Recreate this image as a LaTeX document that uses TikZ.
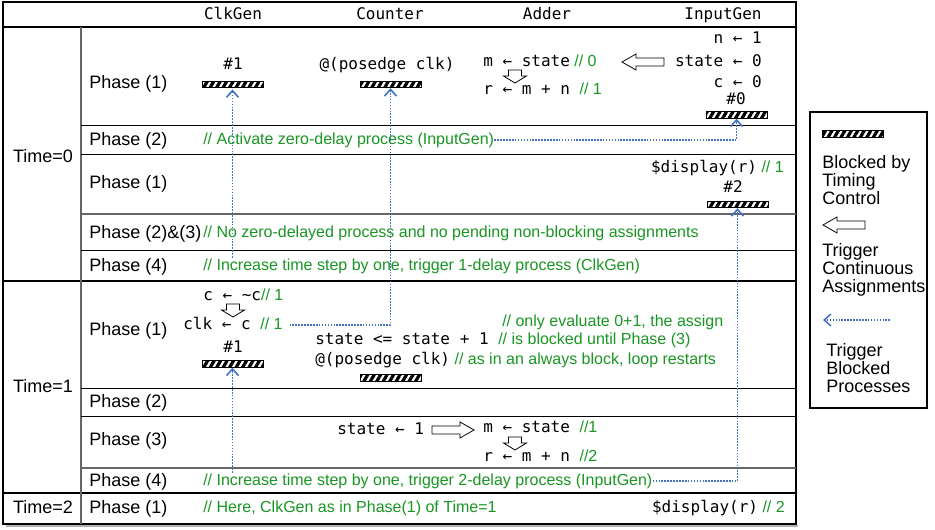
\documentclass[tikz,border=0pt]{standalone}
\usepackage{fontspec}
\setmainfont{Liberation Sans}
\setmonofont{DejaVu Sans Mono}
\usetikzlibrary{arrows.meta,patterns.meta}
\definecolor{cmtgreen}{RGB}{25,150,35}
\definecolor{trigblue}{RGB}{68,114,196}
\newcommand{\cmnt}[1]{{\color{cmtgreen}\rmfamily\fontsize{12}{14}\selectfont#1}}
\begin{document}
\begin{tikzpicture}[
  x=0.75pt, y=-0.75pt,
  every node/.style = {inner sep=0pt},
  lab/.style = {font=\fontsize{13.5}{16}\selectfont, text height=10.5pt, text depth=2.5pt},
  phase/.style = {lab, anchor=west},
  code/.style = {font=\ttfamily\fontsize{12}{14}\selectfont, text height=9.5pt, text depth=2.5pt},
  cmt/.style = {anchor=west, text=cmtgreen, font=\fontsize{12}{14}\selectfont, text height=9.5pt, text depth=2.5pt},
  legend/.style = {anchor=west, align=left, font=\fontsize{13.5}{13.5}\selectfont},
  bar/.style = {draw, line width=0.6pt, pattern={Lines[angle=60,distance=4.2pt,line width=2.4pt]},
    minimum width=45.75pt, minimum height=5pt},
  trig/.style = {draw=trigblue, densely dotted, line width=1.2pt, -{Straight Barb[length=5pt,width=9pt]}},
  hollowl/.pic = {\draw[fill=white, line width=0.6pt] (0,0) -- (14,-8) -- (14,-4) -- (42,-4)
    -- (42,4) -- (14,4) -- (14,8) -- cycle;},
  hollowd/.pic = {\draw[fill=white, line width=0.6pt] (0,0) -- (-11.5,-7) -- (-6.5,-7) -- (-6.5,-13)
    -- (6.5,-13) -- (6.5,-7) -- (11.5,-7) -- cycle;}
]
  \path[fill=white, use as bounding box] (0,0) rectangle (935,530);

  \draw[black!30, line width=2pt] (6,526) -- (798,526);
  \draw[fill=white, line width=0.8pt] (3,2) rectangle (796,524);
  \draw[line width=0.8pt] (3,27) -- (796,27) (3,281) -- (796,281) (3,493) -- (796,493);
  \draw[black!60, line width=0.8pt] (81,27) -- (81,524);
  \draw[line width=0.6pt] (81,125) -- (796,125) (81,154) -- (796,154) (81,250) -- (796,250)
    (81,388) -- (796,388) (81,416) -- (796,416);
  \draw[black!60, line width=0.8pt] (81,214) -- (796,214) (81,468) -- (796,468);

  \node[code] (hclk) at (233,15) {ClkGen};
  \node[code] (hcnt) at (390,15) {Counter};
  \node[code] (hadd) at (547,15) {Adder};
  \node[code] (hinp) at (723,15) {InputGen};

  \node[lab] (t0) at (43,157) {Time=0};
  \node[lab] (t1) at (43,387) {Time=1};
  \node[lab] (t2) at (43,508) {Time=2};

  \node[phase] (p01) at (89,83) {Phase (1)};
  \node[phase] (p02) at (89,140) {Phase (2)};
  \node[phase] (p03) at (89,183) {Phase (1)};
  \node[phase] (p04) at (89,233) {Phase (2)\&(3)};
  \node[phase] (p05) at (89,266) {Phase (4)};
  \node[phase] (p11) at (89,330) {Phase (1)};
  \node[phase] (p12) at (89,402) {Phase (2)};
  \node[phase] (p13) at (89,440) {Phase (3)};
  \node[phase] (p14) at (89,481) {Phase (4)};
  \node[phase] (p21) at (89,508) {Phase (1)};

  \node[code] (dclk0) at (233,65) {\#1};
  \node[bar] (bclk0) at (232.5,84.5) {};
  \node[code] (wcnt0) at (387,65) {@(posedge clk)};
  \node[bar] (bcnt0) at (390.5,84.5) {};
  \node[code, anchor=west] (madd0) at (483,62) {m ← state\cmnt{ // 0}};
  \node[code, anchor=west] (radd0) at (483,90) {r ← m + n \cmnt{// 1}};
  \pic at (515,83) {hollowd};
  \pic at (622,62) {hollowl};
  \node[code, anchor=east] (ninp0) at (762,39) {n ← 1};
  \node[code, anchor=east] (sinp0) at (762,62) {state ← 0};
  \node[code, anchor=east] (cinp0) at (762,83) {c ← 0};
  \node[code] (dinp0) at (736,100) {\#0};
  \node[bar] (binp0) at (736.5,115) {};

  \node[cmt] (act) at (203,140) {// Activate zero-delay process (InputGen)};
  \node[code, anchor=east] (disp1) at (784,168) {\$display(r)\cmnt{ // 1}};
  \node[code] (dinp1) at (733,188) {\#2};
  \node[bar] (binp1) at (737.5,204.5) {};
  \node[cmt] (nozero) at (203,233) {// No zero-delayed process and no pending non-blocking assignments};
  \node[cmt] (inc1) at (203,266) {// Increase time step by one, trigger 1-delay process (ClkGen)};

  \node[code, anchor=west] (cclk1) at (203,296) {c ← \textasciitilde c\cmnt{// 1}};
  \pic at (233,317) {hollowd};
  \node[code, anchor=west] (kclk1) at (183,325) {clk ← c \cmnt{// 1}};
  \node[code] (dclk1) at (233,348) {\#1};
  \node[bar] (bclk1) at (232.5,364) {};
  \node[cmt] (only) at (502,322) {// only evaluate 0+1, the assign};
  \node[code, anchor=west] (scnt1) at (315,340) {state <= state + 1 \cmnt{// is blocked until Phase (3)}};
  \node[code, anchor=west] (wcnt1) at (315,360) {@(posedge clk)\cmnt{ // as in an always block, loop restarts}};
  \node[bar] (bcnt1) at (391,378) {};

  \node[code, anchor=west] (scnt2) at (337,430) {state ← 1};
  \pic[xscale=-1] at (474,430) {hollowl};
  \node[code, anchor=west] (madd1) at (483,428) {m ← state \cmnt{//1}};
  \node[code, anchor=west] (radd1) at (483,457) {r ← m + n \cmnt{//2}};
  \pic at (515,450) {hollowd};
  \node[cmt] (inc2) at (203,481) {// Increase time step by one, trigger 2-delay process (InputGen)};

  \node[cmt] (here) at (203,508) {// Here, ClkGen as in Phase(1) of Time=1};
  \node[code, anchor=east] (disp2) at (785,508) {\$display(r)\cmnt{ // 2}};

  \draw[trig] (act.east) -| (binp0.south);
  \draw[trig] (inc1.north -| bclk0.south) -- (bclk0.south);
  \draw[trig] ([xshift=5pt]kclk1.east) -| (bcnt0.south);
  \draw[trig] (inc2.north -| bclk1.south) -- (bclk1.south);
  \draw[trig] (inc2.east) -| (binp1.south);

  \draw[line width=0.8pt] (810,112) rectangle (927,408);
  \node[bar] (lbar) at (852.5,134) {};
  \node[legend] (lblk) at (822,180) {Blocked by\\Timing\\Control};
  \pic at (823,225) {hollowl};
  \node[legend] (lcont) at (822,270) {Trigger\\Continuous\\Assignments};
  \coordinate (lfrom) at (890,320);
  \coordinate (lto) at (823,320);
  \draw[trig] (lfrom) -- (lto);
  \node[legend] (lproc) at (826,368) {Trigger\\Blocked\\Processes};
\end{tikzpicture}
\end{document}
